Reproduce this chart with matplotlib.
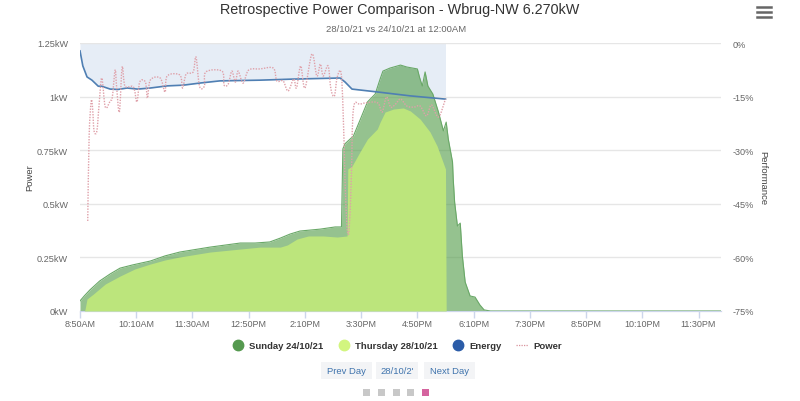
import matplotlib
matplotlib.use('Agg')
import matplotlib.pyplot as plt
from matplotlib.lines import Line2D
from matplotlib.patches import Rectangle, PathPatch
from matplotlib.path import Path

plt.rcParams['font.family'] = ['Liberation Sans', 'DejaVu Sans']

# minutes after 8:50AM, kW
sunday_t = [0, 6, 14, 28, 43, 57, 75, 100, 121, 142, 185, 228, 249, 270, 285, 299, 313, 342, 363, 372,
            374, 377, 389, 399, 409, 420, 427, 431, 441, 456, 465, 480, 483, 487, 491, 495, 502, 510, 517,
            521, 524, 530, 531, 533, 537, 541, 544, 548, 555, 562, 569, 575, 584, 912]
sunday_kw = [.047, .07, .098, .14, .173, .20, .215, .233, .257, .275, .298, .317, .317, .322, .34, .359, .373, .382, .392, .392,
             .756, .78, .816, .895, .975, 1.012, 1.082, 1.119, 1.133, 1.147, 1.138, 1.129, 1.091, 1.049, 1.115, 1.049, 1.012, .928, .84,
             .881, .802, .695, .616, .508, .396, .41, .257, .135, .07, .065, .028, .005, 0, 0]

thursday_t = [0, 6, 7, 10, 19, 36, 57, 78, 100, 121, 142, 185, 228, 256, 285, 295, 309, 325, 346, 366, 380,
              381, 387, 399, 409, 423, 427, 434, 446, 460, 470, 484, 498, 508, 520, 521]
thursday_kw = [0, 0, .005, .056, .079, .126, .163, .196, .219, .238, .252, .275, .289, .298, .298, .308, .336, .35, .35, .345, .35,
               .662, .676, .746, .802, .849, .881, .928, .942, .947, .933, .895, .835, .77, .662, 0]

# performance %
energy_t = [0, 4, 10, 17, 26, 31, 43, 54, 67, 82, 100, 124, 147, 171, 199, 256, 303, 370, 377, 387, 423, 470, 520]
energy_pct = [-2.2, -6.4, -9.5, -10.4, -12.1, -12.1, -12.9, -13, -12.6, -12.9, -12.6, -12, -11.8, -11.2, -10.6,
              -10.4, -10.1, -9.8, -10.9, -12.9, -13.7, -14.8, -15.7]

power_t = [11, 13, 16, 18, 20, 24, 27, 31, 36, 43, 46, 50, 52, 56, 60, 64, 76, 81, 85, 93, 96, 100, 114, 121, 124,
           142, 146, 151, 161, 165, 170, 177, 179, 202, 205, 211, 216, 221, 225, 232, 240, 256, 275, 280, 289, 296,
           304, 308, 314, 320, 330, 337, 342, 346, 353, 357, 362, 366, 372, 376, 377, 380, 383, 386, 389, 399, 418,
           425, 430, 436, 442, 449, 456, 465, 475, 484, 493, 500, 510, 520]
power_kw = [.42, .816, .98, .942, .84, .84, .956, 1.087, .951, .98, .998, 1.124, 1.049, .928, 1.138, 1.049, 1.045, .975, 1.068, 1.068, .993, 1.077, 1.087, 1.021, 1.096,
            1.101, 1.04, 1.105, 1.115, 1.185, 1.049, 1.049, 1.115, 1.119, 1.054, 1.059, 1.119, 1.068, 1.119, 1.063, 1.124, 1.129, 1.133, 1.073, 1.073, 1.026,
            1.082, 1.04, 1.143, 1.04, 1.199, 1.096, 1.152, 1.096, 1.143, 1.035, 1.003, 1.091, 1.096, .756, .616, .385, .385, .616, .942, .965, .975,
            .965, .928, .998, .951, .965, .989, .956, .951, .956, .91, .961, .905, .989]

x_ticks = [0, 80, 160, 240, 320, 400, 480, 560, 640, 720, 800, 880]
x_labels = ['8:50AM', '10:10AM', '11:30AM', '12:50PM', '2:10PM', '3:30PM', '4:50PM', '6:10PM',
            '7:30PM', '8:50PM', '10:10PM', '11:30PM']
kw_ticks = [0, .25, .5, .75, 1, 1.25]
kw_labels = ['0kW', '0.25kW', '0.5kW', '0.75kW', '1kW', '1.25kW']
pct_ticks = [-75, -60, -45, -30, -15, 0]
pct_labels = ['-75%', '-60%', '-45%', '-30%', '-15%', '0%']

tick_grey = '#666666'


# the chart draws its lines as splines, so bend the power line through its points
def spline_path(xs, ys):
    verts = [(xs[0], ys[0])]
    codes = [Path.MOVETO]
    n = len(xs)
    for i in range(n - 1):
        x0, y0 = xs[max(i - 1, 0)], ys[max(i - 1, 0)]
        x3, y3 = xs[min(i + 2, n - 1)], ys[min(i + 2, n - 1)]
        verts += [(xs[i] + (xs[i + 1] - x0) / 6, ys[i] + (ys[i + 1] - y0) / 6),
                  (xs[i + 1] - (x3 - xs[i]) / 6, ys[i + 1] - (y3 - ys[i]) / 6),
                  (xs[i + 1], ys[i + 1])]
        codes += [Path.CURVE4] * 3
    return Path(verts, codes)


fig = plt.figure(figsize=(8, 4.02), dpi=100)
ax = fig.add_axes([80 / 800, 90 / 402, 641 / 800, 268 / 402])
ax2 = ax.twinx()
ax.set_zorder(2)
ax2.set_zorder(1)
ax.patch.set_visible(False)

# performance band goes behind the areas
ax2.fill_between(energy_t, energy_pct, 0, color='#e6edf6', lw=0, zorder=1)
ax2.set_ylim(-75, 0)
ax2.set_yticks(pct_ticks, pct_labels)
ax2.tick_params(axis='y', length=0, pad=8.5, labelsize=6.6, labelcolor=tick_grey)
ax2.set_ylabel('Performance', rotation=270, fontsize=6.8, color='#444444', labelpad=9.6)

ax.fill_between(sunday_t, sunday_kw, color='#4f9a45', alpha=0.6, lw=0, zorder=2)
ax.plot(sunday_t, sunday_kw, color='#6aa868', lw=0.8, zorder=2)
ax.fill_between(thursday_t, thursday_kw, color='#bce57c', lw=0, zorder=3)
ax.plot(energy_t, [(p + 75) / 75 * 1.25 for p in energy_pct], color='#4f7fb3', lw=1.2, zorder=4)
ax.add_patch(PathPatch(spline_path(power_t, power_kw), fc='none', ec='#dfa0a9', lw=1.0, ls=(0, (1, 1)), zorder=5))

ax.set_xlim(0, 912)
ax.set_ylim(0, 1.25)
ax.set_xticks(x_ticks, x_labels)
ax.set_yticks(kw_ticks, kw_labels)
ax.grid(axis='y', color='#e6e6e6', lw=1)
ax.set_axisbelow(True)
ax.tick_params(axis='x', length=5, width=1, color='#ccd6eb', labelsize=6.5, labelcolor=tick_grey, pad=1)
ax.tick_params(axis='y', length=0, pad=8.5, labelsize=6.6, labelcolor=tick_grey)
ax.set_ylabel('Power', fontsize=6.8, color='#444444', labelpad=2)
for a in (ax, ax2):
    for s in ('top', 'left', 'right'):
        a.spines[s].set_visible(False)
    a.spines['bottom'].set_color('#ccd6eb')

fig.text(400 / 800, 1 - 10 / 402, 'Retrospective Power Comparison - Wbrug-NW 6.270kW', ha='center', va='center',
         fontsize=10.4, color='#333333')
fig.text(396 / 800, 1 - 29 / 402, '28/10/21 vs 24/10/21 at 12:00AM', ha='center', va='center',
         fontsize=6.8, color='#666666')

handles = [
    Line2D([], [], ls='', marker='o', ms=7.5, color='#55994f'),
    Line2D([], [], ls='', marker='o', ms=7.5, color='#d2f57f'),
    Line2D([], [], ls='', marker='o', ms=7.5, color='#2b5ca8'),
    Line2D([], [], color='#d9929c', lw=0.9, ls=(0, (1, 1))),
]
fig.legend(handles, ['Sunday 24/10/21', 'Thursday 28/10/21', 'Energy', 'Power'], ncol=4, frameon=False,
           loc='center', bbox_to_anchor=(397 / 800, 1 - 347 / 402), handlelength=1.2,
           handletextpad=0.6, columnspacing=1.55, prop={'weight': 'bold', 'size': 6.8}, labelcolor='#333333')

# buttons under the legend
for x0, x1, label in [(321, 372, 'Prev Day'), (376, 418, "28/10/2'"), (424, 475, 'Next Day')]:
    fig.add_artist(Rectangle((x0 / 800, 1 - 380 / 402), (x1 - x0) / 800, 17 / 402, fc='#f3f4f6', ec='none',
                             transform=fig.transFigure))
    fig.text((x0 + x1) / 2 / 800, 1 - 372 / 402, label, ha='center', va='center', fontsize=6.8, color='#3f74ad')

for i, cx in enumerate([366, 381, 396, 410, 425]):
    c = '#d5649f' if i == 4 else '#c8c8c8'
    fig.add_artist(Rectangle(((cx - 3.5) / 800, 1 - 396.5 / 402), 7 / 800, 7 / 402, fc=c, ec='none',
                             transform=fig.transFigure))

# menu icon
for y in (8, 13, 18):
    fig.add_artist(Line2D([757 / 800, 771 / 800], [1 - y / 402] * 2, color='#666666', lw=1.8))

fig.savefig('out.png', dpi=100)
